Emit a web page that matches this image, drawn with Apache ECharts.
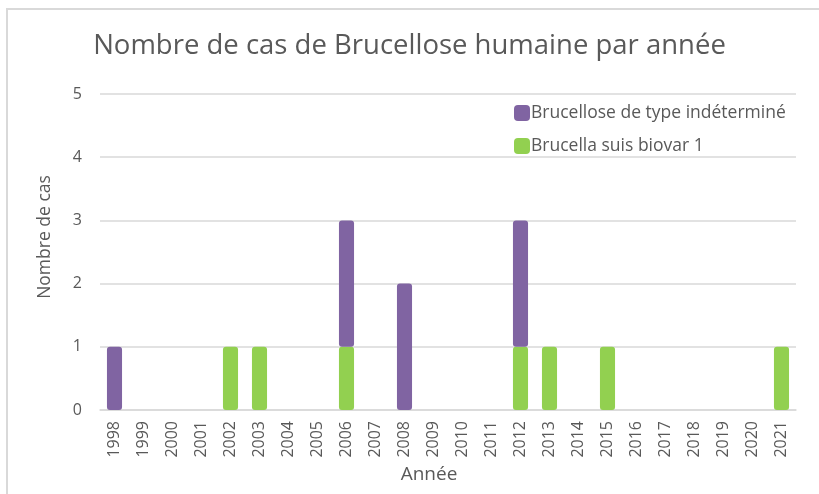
<!DOCTYPE html>
<html>
<head>
<meta charset="utf-8">
<script src="https://cdn.jsdelivr.net/npm/echarts@6/dist/echarts.min.js"></script>
<style>
  html, body { margin: 0; padding: 0; background: #fff; }
  #chart { width: 819px; height: 494px; }
</style>
</head>
<body>
<div id="chart"></div>
<script>
// années
const years = ["1998", "1999", "2000", "2001", "2002", "2003", "2004", "2005",
  "2006", "2007", "2008", "2009", "2010", "2011", "2012", "2013", "2014",
  "2015", "2016", "2017", "2018", "2019", "2020", "2021"];
// Brucella suis biovar 1 (en bas de la pile)
const suisBiovar1 = [0, 0, 0, 0, 1, 1, 0, 0, 1, 0, 0, 0, 0, 0, 1, 1, 0, 1, 0, 0, 0, 0, 0, 1];
// Brucellose de type indéterminé
const indetermine = [1, 0, 0, 0, 0, 0, 0, 0, 2, 0, 2, 0, 0, 0, 2, 0, 0, 0, 0, 0, 0, 0, 0, 0];
const yTicks = [0, 1, 2, 3, 4, 5];

const font = "'Open Sans', 'Noto Sans', sans-serif";
const grey = "#595959";

const chart = echarts.init(document.getElementById("chart"));

const option = {
  animation: false,
  textStyle: { fontFamily: font },
  title: {
    text: "Nombre de cas de Brucellose humaine par année",
    left: "center",
    top: 27,
    textStyle: { fontFamily: font, fontSize: 27.5, fontWeight: "normal", color: grey },
  },
  graphic: [
    {
      type: "rect",
      shape: { x: 7, y: 9, width: 900, height: 600 },
      style: { fill: "none", stroke: "#d9d9d9", lineWidth: 2 },
      silent: true,
    },
  ],
  legend: {
    orient: "vertical",
    left: 509,
    top: 99,
    itemWidth: 16,
    itemHeight: 16,
    itemGap: 15,
    data: ["Brucellose de type indéterminé", "Brucella suis biovar 1"],
    textStyle: { fontFamily: font, fontSize: 17.5, color: grey, padding: [0, 0, 0, -4] },
  },
  grid: { left: 100, right: 23, top: 94, bottom: 84 },
  xAxis: {
    type: "category",
    data: years,
    name: "Année",
    nameLocation: "middle",
    nameGap: 48,
    nameTextStyle: { fontFamily: font, fontSize: 19, color: grey, padding: [0, 38, 0, 0] },
    axisLine: { lineStyle: { color: "#d9d9d9", width: 1.5 } },
    axisTick: { show: false },
    axisLabel: { interval: 0, rotate: 90, margin: 11, fontSize: 16, color: grey, fontFamily: font },
  },
  yAxis: {
    type: "value",
    min: yTicks[0],
    max: yTicks[yTicks.length - 1],
    interval: 1,
    name: "Nombre de cas",
    nameLocation: "middle",
    nameGap: 46,
    nameTextStyle: { fontFamily: font, fontSize: 17.5, color: grey, padding: [0, 0, 0, 30] },
    axisLine: { show: false },
    axisTick: { show: false },
    axisLabel: { margin: 18, fontSize: 16, color: grey, fontFamily: font },
    splitLine: { lineStyle: { color: "#d9d9d9", width: 1.5 } },
  },
  series: [
    {
      name: "Brucella suis biovar 1",
      type: "bar",
      stack: "cas",
      data: suisBiovar1,
      barWidth: "52%",
      itemStyle: { color: "#92d050", borderRadius: 3 },
    },
    {
      name: "Brucellose de type indéterminé",
      type: "bar",
      stack: "cas",
      data: indetermine,
      barWidth: "52%",
      itemStyle: { color: "#8064a2", borderRadius: 3 },
    },
  ],
};

chart.setOption(option);
</script>
</body>
</html>
